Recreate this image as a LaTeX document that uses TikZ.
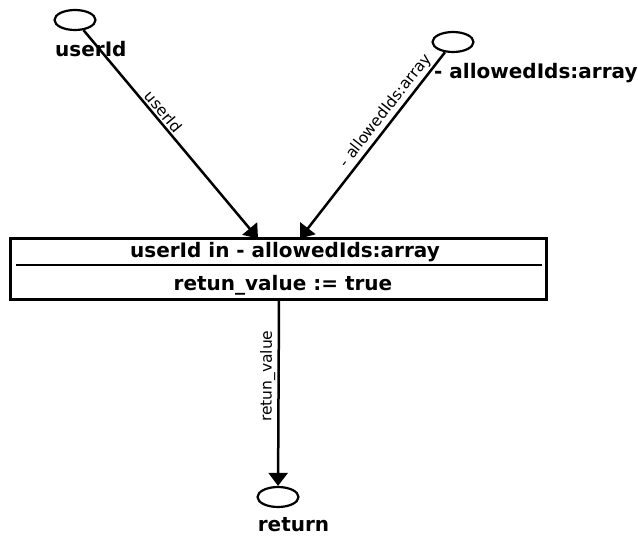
\documentclass[tikz,border=0pt]{standalone}
\usepackage{fontspec}
\setmainfont{DejaVu Sans}
\usetikzlibrary{arrows.meta,shapes.geometric}
\begin{document}
\begin{tikzpicture}[x=1pt,y=-1pt,
  port/.style={draw, ellipse, line width=2.2pt, minimum width=41pt, minimum height=20pt, inner sep=0pt},
  nlabel/.style={font=\fontsize{20}{23}\selectfont\bfseries, inner sep=0pt},
  elabel/.style={font=\fontsize{15.5}{18}\selectfont, sloped, above, inner sep=2pt},
  flow/.style={line width=2.5pt, -{Triangle[length=13pt,width=19pt]}},
  opbox/.style={draw, line width=2.6pt, minimum width=536pt, minimum height=61pt, inner sep=0pt}
]
\useasboundingbox (0,0) rectangle (638,536);

% ports
\node[port] (u) at (75,20) {};
\node[port] (a) at (453,42) {};
\node[port] (r) at (278,497) {};

\node[nlabel, anchor=base west] (ul) at (55,56) {userId};
\node[nlabel, anchor=base west] (al) at (434,78) {- allowedIds:array};
\node[nlabel, anchor=base] (rl) at (293.5,531) {return};

% operation box
\node[opbox] (box) at (278.5,269) {};
\draw[line width=2.6pt] (16,265) -- (542,265);
\node[nlabel, anchor=base] (cond) at (285,257) {userId in - allowedIds:array};
\node[nlabel, anchor=base] (act) at (283,290) {retun\_value := true};

\coordinate (t1) at (258,238.5);
\coordinate (t2) at (300,238.5);
\coordinate (s3) at (279,300);

\draw[flow] (u) -- node[elabel, pos=0.42] {userId} (t1);
\draw[flow] (a) -- node[elabel, pos=0.35] {- allowedIds:array} (t2);
\draw[flow] (s3) -- node[elabel, pos=0.41] {retun\_value} (r);
\end{tikzpicture}
\end{document}
